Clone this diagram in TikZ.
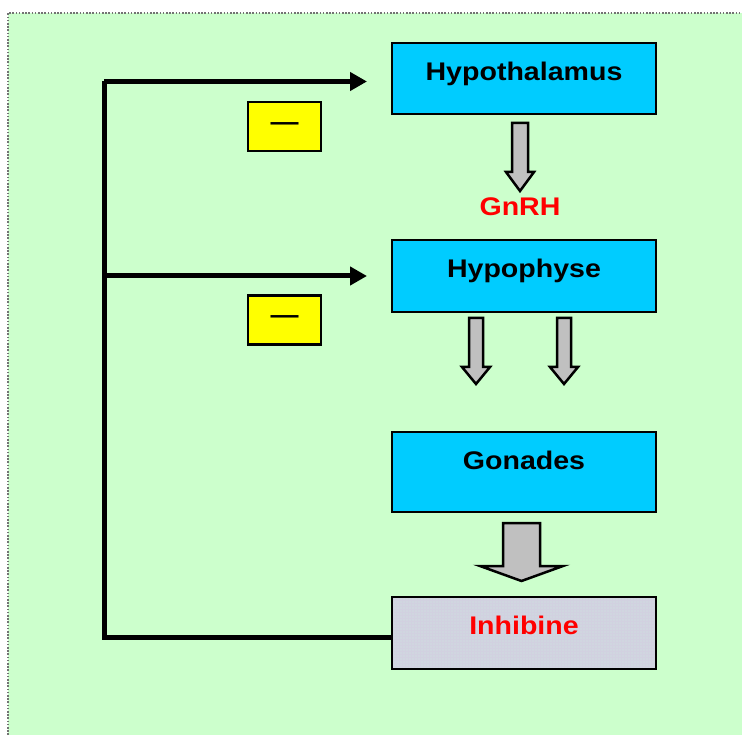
\documentclass[tikz,border=0pt]{standalone}
\usepackage{fontspec}
\setmainfont[FakeStretch=1.12]{Liberation Sans}
\usepackage{tikz}
\usetikzlibrary{arrows.meta,positioning,calc,patterns}
\definecolor{panelGreen}{RGB}{204,255,204}
\definecolor{organBlue}{RGB}{0,204,255}
\definecolor{signYellow}{RGB}{255,255,0}
\definecolor{flowGray}{RGB}{192,192,192}
\definecolor{hormRed}{RGB}{255,0,0}
\definecolor{inhFill}{RGB}{208,214,224}
\tikzset{
  organ/.style={draw,line width=2.5pt,fill=organBlue,minimum width=264pt,
                inner sep=0pt,outer sep=0pt,text height=17.9pt,
                font=\fontsize{25.5}{30}\selectfont\bfseries},
  minus/.style={draw,line width=2.5pt,fill=signYellow,minimum width=73pt,minimum height=49pt,
                inner sep=0pt,text height=8pt,text depth=0pt,
                font=\fontsize{25}{30}\selectfont\bfseries},
  horm/.style={text=hormRed,font=\fontsize{25.5}{30}\selectfont\bfseries},
  fb/.style={line width=5pt},
  fbarr/.style={line width=5pt,-{Triangle[length=17pt,width=18pt]}},
  fat/.style={draw,line width=2.5pt,fill=flowGray,line join=miter},
}
% hollow down arrow: centre x, top, tip, half shaft, half head, head length
\newcommand{\fatarrow}[6]{%
  \draw[fat] ({#1-#4},#2) -- ({#1+#4},#2) -- ({#1+#4},{#3-#6}) -- ({#1+#5},{#3-#6})
    -- (#1,#3) -- ({#1-#5},{#3-#6}) -- ({#1-#4},{#3-#6}) -- cycle;}

\begin{document}
\begin{tikzpicture}[x=1pt,y=-1pt]
  \useasboundingbox (0,0) rectangle (742,735);
  \fill[panelGreen] (8,13) rectangle (742,735);
  \draw[black!55,line width=2pt,dash pattern=on 1.6pt off 1.6pt] (8,735) -- (8,13) -- (742,13);

  \node[organ,minimum height=71pt,text depth=13.1pt] (hyp) at (524,78.5) {Hypothalamus};
  \node[organ,minimum height=72pt,text depth=14.1pt,below=126pt of hyp] (hypo) {Hypophyse};
  \node[organ,minimum height=80pt,text depth=22.1pt,below=120pt of hypo] (gon) {Gonades};
  \node[organ,minimum height=72pt,text depth=14.1pt,below=85pt of gon,
        preaction={fill=inhFill},pattern=grid,pattern color=blue!20!gray!30,text=hormRed] (inh) {Inhibine};

  \node[horm] (gnrh) at (520,207) {GnRH};

  \node[minus] (m1) at (284.5,126.5) {—};
  \node[minus] (m2) at (284.5,320) {—};

  \fatarrow{520}{123}{191}{8}{14}{19}
  \fatarrow{476}{318}{384}{7}{14}{17}
  \fatarrow{564}{318}{384}{7}{14}{17}
  \fatarrow{521.5}{523}{581}{18.5}{41.5}{15}

  % negative feedback loop
  \coordinate (spine) at (104,0);
  \draw[fb] ([yshift=-4pt]inh.west) -| ([yshift=-3pt]spine |- hyp.west);
  \draw[fbarr] ([yshift=-3pt]spine |- hyp.west) -- ([xshift=-25pt,yshift=-3pt]hyp.west);
  \draw[fbarr] (spine |- hypo.west) -- ([xshift=-25pt]hypo.west);
\end{tikzpicture}
\end{document}
